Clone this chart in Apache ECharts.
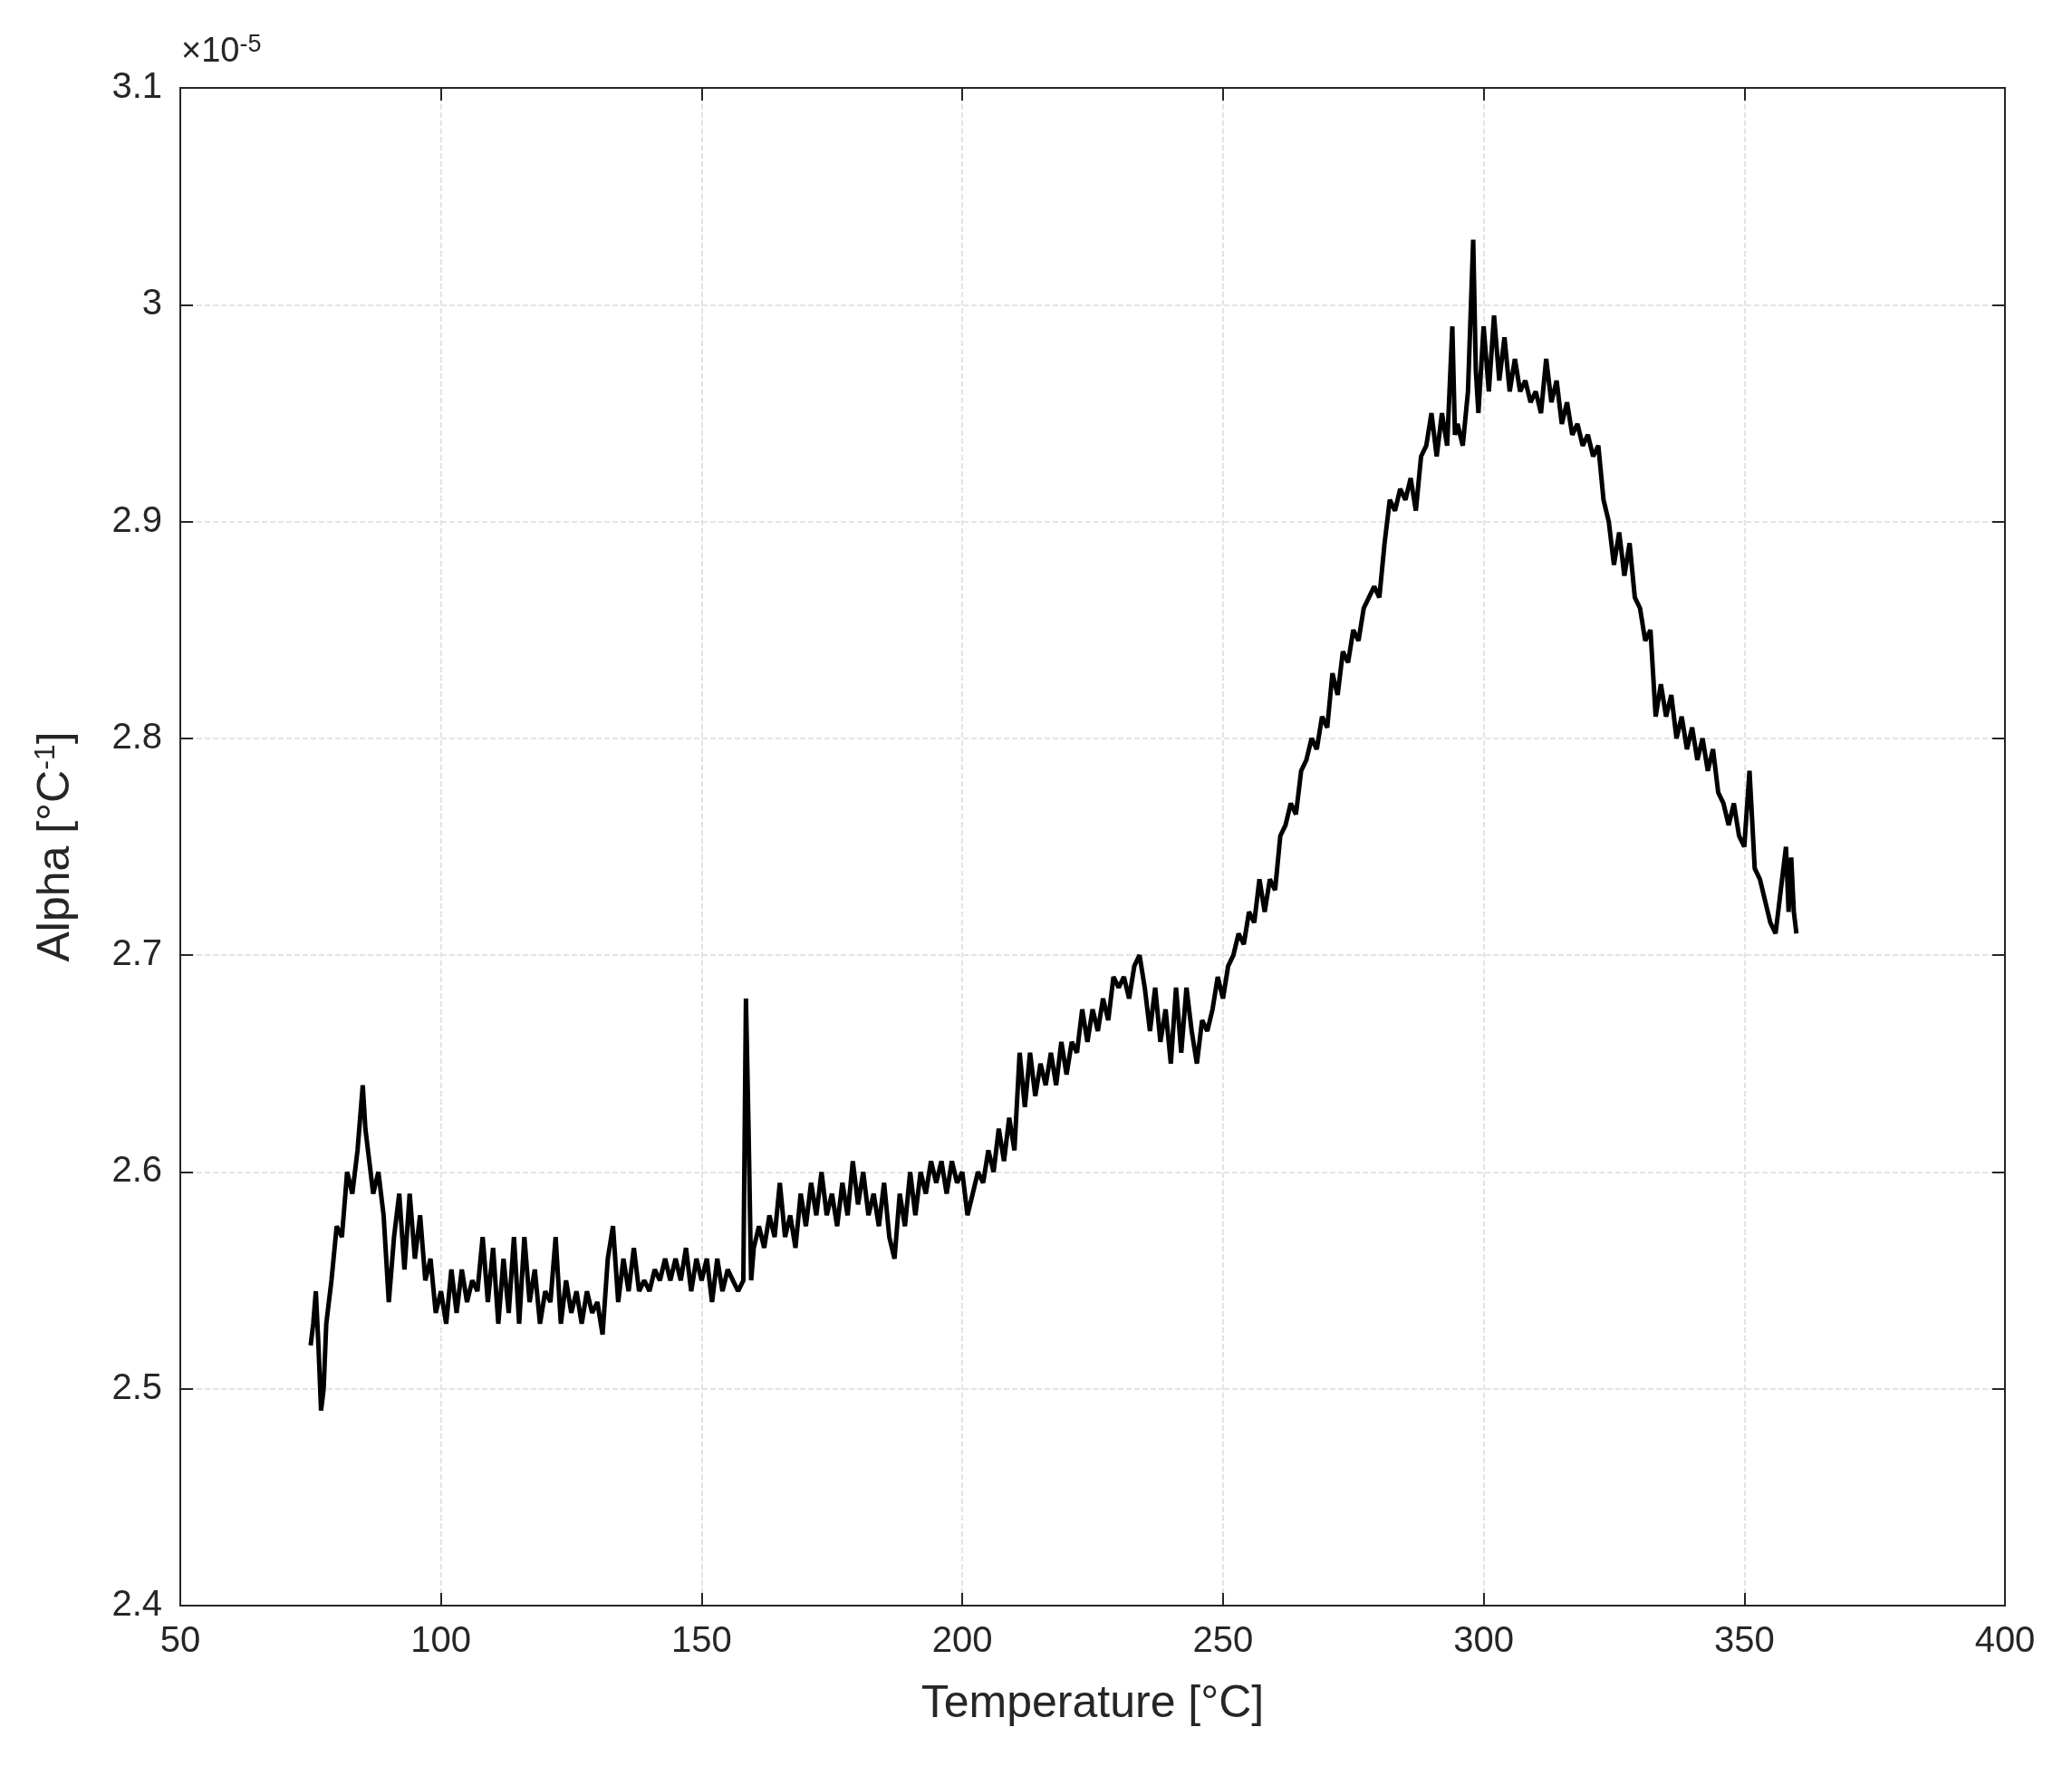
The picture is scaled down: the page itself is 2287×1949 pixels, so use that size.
<!DOCTYPE html>
<html>
<head>
<meta charset="utf-8">
<script src="https://cdn.jsdelivr.net/npm/echarts@6/dist/echarts.min.js"></script>
<style>html,body{margin:0;background:#fff}#chart{width:2287px;height:1949px}</style>
</head>
<body>
<div id="chart"></div>
<script>
// Temperature [°C] and alpha (x1e-5 /°C)
const temps = [75,75.5,76,76.5,77,77.5,78,79,80,81,82,83,84,85,85.5,86,87,88,89,90,91,92,93,94,95,96,97,98,99,
  100,101,102,103,104,105,106,107,108,109,110,111,112,113,114,115,116,117,118,119,120,121,122,123,124,125,126,127,128,129,
  130,131,132,133,134,135,136,137,138,139,140,141,142,143,144,145,146,147,148,149,150,151,152,153,154,155,156,157,158,158.5,159,159.5,
  160,161,162,163,164,165,166,167,168,169,170,171,172,173,174,175,176,177,178,179,180,181,182,183,184,185,186,187,188,189,
  190,191,192,193,194,195,196,197,198,199,200,201,202,203,204,205,206,207,208,209,210,211,212,213,214,215,216,217,218,219,
  220,221,222,223,224,225,226,227,228,229,230,231,232,233,234,235,236,237,238,239,240,241,242,243,244,245,246,247,248,249,
  250,251,252,253,254,255,256,257,258,259,260,261,262,263,264,265,266,267,268,269,270,271,272,273,274,275,276,277,278,279,
  280,281,282,283,284,285,286,287,288,289,290,291,292,293,294,294.5,295,296,297,298,298.5,299,
  300,301,302,303,304,305,306,307,308,309,310,311,312,313,314,315,316,317,318,319,320,321,322,323,324,325,326,327,328,329,
  330,331,332,333,334,335,336,337,338,339,340,341,342,343,344,345,346,347,348,349,350,351,352,353,354,355,356,357,358,358.5,359,359.5,360];
const alpha = [2.52,2.53,2.545,2.52,2.49,2.50,2.53,2.55,2.575,2.57,2.60,2.59,2.61,2.64,2.62,2.61,2.59,2.60,2.58,2.54,2.57,2.59,2.555,2.59,2.56,2.58,2.55,2.56,2.535,
  2.545,2.53,2.555,2.535,2.555,2.54,2.55,2.545,2.57,2.54,2.565,2.53,2.56,2.535,2.57,2.53,2.57,2.54,2.555,2.53,2.545,2.54,2.57,2.53,2.55,2.535,2.545,2.53,2.545,2.535,
  2.54,2.525,2.56,2.575,2.54,2.56,2.545,2.565,2.545,2.55,2.545,2.555,2.55,2.56,2.55,2.56,2.55,2.565,2.545,2.56,2.55,2.56,2.54,2.56,2.545,2.555,2.55,2.545,2.55,2.68,2.62,2.55,
  2.565,2.575,2.565,2.58,2.57,2.595,2.57,2.58,2.565,2.59,2.575,2.595,2.58,2.60,2.58,2.59,2.575,2.595,2.58,2.605,2.585,2.60,2.58,2.59,2.575,2.595,2.57,2.56,2.59,2.575,
  2.60,2.58,2.60,2.59,2.605,2.595,2.605,2.59,2.605,2.595,2.60,2.58,2.59,2.60,2.595,2.61,2.60,2.62,2.605,2.625,2.61,2.655,2.63,2.655,2.635,2.65,2.64,2.655,2.64,2.66,
  2.645,2.66,2.655,2.675,2.66,2.675,2.665,2.68,2.67,2.69,2.685,2.69,2.68,2.695,2.70,2.685,2.665,2.685,2.66,2.675,2.65,2.685,2.655,2.685,2.665,2.65,2.67,2.665,2.675,2.69,
  2.68,2.695,2.70,2.71,2.705,2.72,2.715,2.735,2.72,2.735,2.73,2.755,2.76,2.77,2.765,2.785,2.79,2.80,2.795,2.81,2.805,2.83,2.82,2.84,2.835,2.85,2.845,2.86,2.865,2.87,
  2.865,2.89,2.91,2.905,2.915,2.91,2.92,2.905,2.93,2.935,2.95,2.93,2.95,2.935,2.99,2.94,2.945,2.935,2.96,3.03,2.97,2.95,
  2.99,2.96,2.995,2.965,2.985,2.96,2.975,2.96,2.965,2.955,2.96,2.95,2.975,2.955,2.965,2.945,2.955,2.94,2.945,2.935,2.94,2.93,2.935,2.91,2.90,2.88,2.895,2.875,2.89,2.865,
  2.86,2.845,2.85,2.81,2.825,2.81,2.82,2.80,2.81,2.795,2.805,2.79,2.80,2.785,2.795,2.775,2.77,2.76,2.77,2.755,2.75,2.785,2.74,2.735,2.725,2.715,2.71,2.73,2.75,2.72,2.745,2.72,2.71];

const font = 'Liberation Sans';
const chart = echarts.init(document.getElementById('chart'));
const grid = { left: 199, right: 74, top: 97, bottom: 177 };
const splitLine = { show: true, lineStyle: { color: '#dcdcdc', type: 'dashed', width: 1.5 } };
chart.setOption({
  backgroundColor: '#fff',
  animation: false,
  grid: Object.assign({ show: true, borderColor: '#262626', borderWidth: 2 }, grid),
  graphic: [{
    type: 'text', left: 200, top: 36,
    style: { rich: { a: { fontFamily: font, fontSize: 38, fill: '#262626' }, s: { fontFamily: font, fontSize: 27, fill: '#262626', verticalAlign: 'top', padding: [0, 0, 16, 0] } },
      text: '{a|×10}{s|-5}' }
  }],
  xAxis: [{
    type: 'value', min: 50, max: 400, interval: 50,
    name: 'Temperature [°C]', nameLocation: 'middle', nameGap: 84,
    nameTextStyle: { fontFamily: font, fontSize: 50, color: '#262626' },
    axisLabel: { fontFamily: font, fontSize: 40, color: '#262626', margin: 20 },
    axisLine: { lineStyle: { color: '#262626', width: 2 } },
    axisTick: { inside: true, length: 14, lineStyle: { color: '#262626', width: 2 } },
    splitLine: splitLine
  }, {
    type: 'value', position: 'top', min: 50, max: 400, interval: 50,
    axisLabel: { show: false }, splitLine: { show: false },
    axisLine: { lineStyle: { color: '#262626', width: 2 } },
    axisTick: { inside: true, length: 14, lineStyle: { color: '#262626', width: 2 } }
  }],
  yAxis: [{
    type: 'value', min: 2.4, max: 3.1, interval: 0.1,
    name: '{a|Alpha [°C}{s|-1}{a|]}', nameLocation: 'middle', nameGap: 110,
    nameTextStyle: { rich: { a: { fontFamily: font, fontSize: 50, color: '#262626' }, s: { fontFamily: font, fontSize: 32, color: '#262626', padding: [0, 0, 22, 0] } } },
    axisLabel: { fontFamily: font, fontSize: 40, color: '#262626', margin: 20, formatter: v => +v.toFixed(1) + '' },
    axisLine: { lineStyle: { color: '#262626', width: 2 } },
    axisTick: { inside: true, length: 14, lineStyle: { color: '#262626', width: 2 } },
    splitLine: splitLine
  }, {
    type: 'value', position: 'right', min: 2.4, max: 3.1, interval: 0.1,
    axisLabel: { show: false }, splitLine: { show: false },
    axisLine: { show: true, lineStyle: { color: '#262626', width: 2 } },
    axisTick: { show: true, inside: true, length: 14, lineStyle: { color: '#262626', width: 2 } }
  }],
  series: [{
    type: 'line', showSymbol: false, xAxisIndex: 0, yAxisIndex: 0,
    data: temps.map((t, i) => [t, alpha[i]]),
    lineStyle: { color: '#000', width: 5 }
  }]
});
</script>
</body>
</html>
